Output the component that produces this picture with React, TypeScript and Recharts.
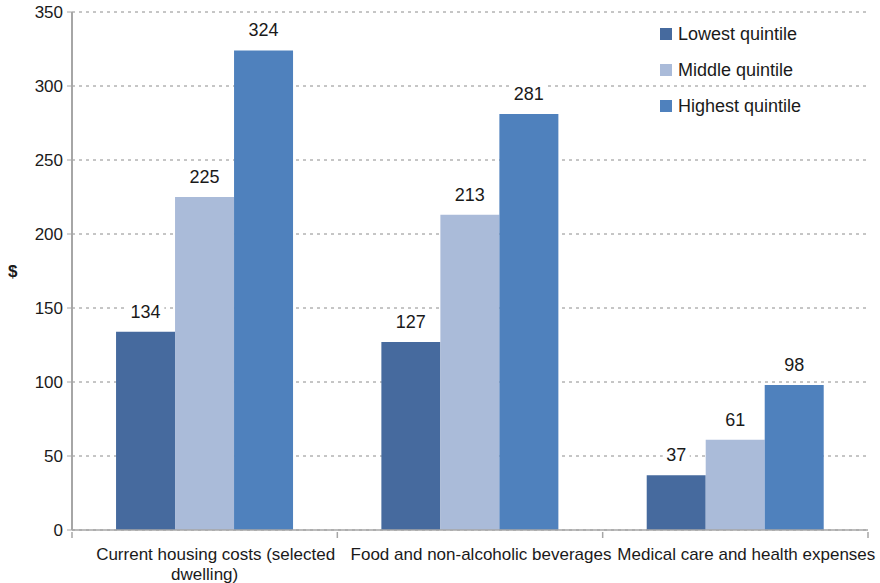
import { BarChart, Bar, XAxis, YAxis, CartesianGrid, LabelList } from "recharts";

// categories and values
const categories = [
  "Current housing costs (selected dwelling)",
  "Food and non-alcoholic beverages",
  "Medical care and health expenses",
];
const lowest = [134, 127, 37];
const middle = [225, 213, 61];
const highest = [324, 281, 98];
const yTicks = [0, 50, 100, 150, 200, 250, 300, 350];

const series = [
  { key: "lowest", name: "Lowest quintile", color: "#466A9E" },
  { key: "middle", name: "Middle quintile", color: "#AABBD9" },
  { key: "highest", name: "Highest quintile", color: "#4F81BD" },
];

const data = categories.map((c, i) => ({
  category: c,
  lowest: lowest[i],
  middle: middle[i],
  highest: highest[i],
}));

const FONT = "'Liberation Sans', Arial, sans-serif";
const AXIS = "#a6a6a6";

// value label above each bar, with a white box so gridlines stop behind it
function ValueLabel(props: any) {
  const { x, y, width, value } = props;
  const cx = x + width / 2;
  const w = String(value).length * 10.5 + 6;
  return (
    <g>
      <rect x={cx - w / 2} y={y - 31} width={w} height={21} fill="#fff" />
      <text x={cx} y={y - 14} textAnchor="middle" fontSize={18} fill="#1a1a1a" fontFamily={FONT}>
        {value}
      </text>
    </g>
  );
}

// category label plus the small tick marks at the category boundaries
function CategoryTick(props: any) {
  const { x, y, payload, index } = props;
  const half = payload.offset || 132.7;
  const v: string = payload.value;
  const lines = v.startsWith("Current")
    ? ["Current housing costs (selected", "dwelling)"]
    : [v];
  const top = y - 8;
  return (
    <g>
      {index === 0 && <line x1={x - half} x2={x - half} y1={top} y2={top + 6} stroke={AXIS} strokeWidth={1.5} />}
      <line x1={x + half} x2={x + half} y1={top} y2={top + 6} stroke={AXIS} strokeWidth={1.5} />
      <text x={x} y={y + 20} textAnchor="middle" fontSize={17} fill="#1a1a1a" fontFamily={FONT}>
        {lines.map((l, i) => (
          <tspan key={i} x={i === 0 ? x + 11 : x} dy={i === 0 ? 0 : 20}>
            {l}
          </tspan>
        ))}
      </text>
    </g>
  );
}

export default function App() {
  return (
    <div style={{ width: 880, height: 583, background: "#fff", position: "relative" }}>
      <style>{"body{margin:0}"}</style>
      <BarChart
        width={880}
        height={583}
        data={data}
        margin={{ top: 12, right: 12, bottom: 0, left: 0 }}
        barCategoryGap="16.6%"
        barGap={0}
      >
        <CartesianGrid vertical={false} stroke="#8c8c8c" strokeDasharray="3 4" />
        <XAxis
          dataKey="category"
          height={53}
          interval={0}
          tick={<CategoryTick />}
          tickLine={false}
          tickSize={8}
          axisLine={{ stroke: AXIS, strokeWidth: 1.5 }}
        />
        <YAxis
          width={72}
          domain={[0, 350]}
          ticks={yTicks}
          tick={{ fontSize: 17, fill: "#1a1a1a", fontFamily: FONT }}
          tickLine={{ stroke: AXIS }}
          tickSize={5}
          tickMargin={4}
          axisLine={{ stroke: AXIS, strokeWidth: 2 }}
          label={{
            value: "$",
            position: "insideLeft",
            offset: 8,
            style: { fontSize: 17, fontWeight: "bold", fill: "#1a1a1a", fontFamily: FONT },
          }}
        />
        {series.map((s) => (
          <Bar key={s.key} dataKey={s.key} name={s.name} fill={s.color} isAnimationActive={false}>
            <LabelList dataKey={s.key} content={<ValueLabel />} />
          </Bar>
        ))}
      </BarChart>
      <div
        style={{
          position: "absolute",
          left: 660,
          top: 16,
          fontFamily: FONT,
          fontSize: 18,
          color: "#1a1a1a",
        }}
      >
        {series.map((s) => (
          <div key={s.key} style={{ display: "flex", alignItems: "center", height: 36 }}>
            <span style={{ width: 12, height: 12, background: s.color, marginRight: 6 }} />
            {s.name}
          </div>
        ))}
      </div>
    </div>
  );
}
